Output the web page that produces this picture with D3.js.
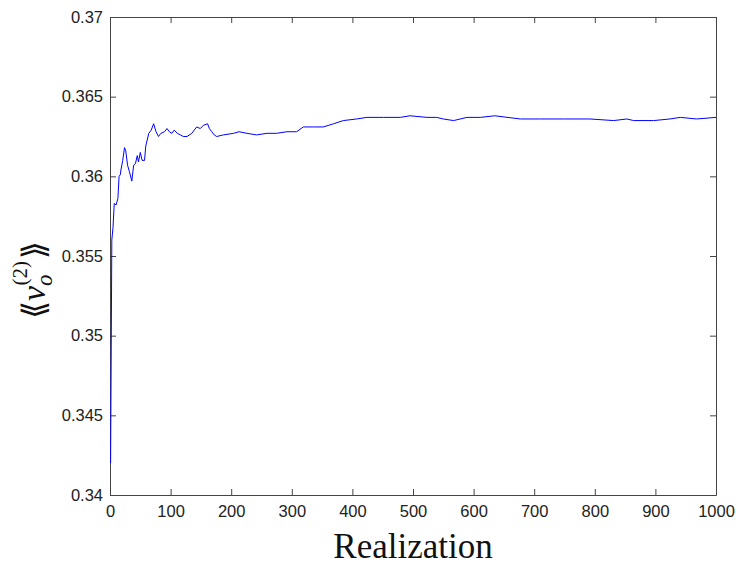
<!DOCTYPE html>
<html>
<head>
<meta charset="utf-8">
<script src="https://cdn.jsdelivr.net/npm/d3@7"></script>
<style>
  body { margin: 0; background: white; }
  svg { display: block; }
</style>
</head>
<body>
<div id="chart"></div>
<script>
// Realization index (x)
const realizations = [
  1, 3, 5, 7, 10, 13, 15, 17, 18, 21, 24, 26, 29, 32, 36, 39, 42, 45, 47, 50,
  53, 57, 59, 64, 68, 72, 76, 80, 84, 90, 94, 98, 102, 106, 111, 116, 121, 127,
  135, 143, 149, 154, 161, 164, 168, 172, 176, 187, 204, 213, 226, 242, 259, 275,
  292, 308, 319, 336, 352, 369, 385, 407, 424, 451, 479, 495, 523, 539, 550, 567,
  589, 611, 635, 677, 710, 748, 792, 831, 853, 864, 897, 924, 941, 968, 1000
];

// Running average <<v_o^(2)>> at each realization
const meanValues = [
  0.3420, 0.3560, 0.3568, 0.3583, 0.3582, 0.3586, 0.3600, 0.3601, 0.3604, 0.3610,
  0.3618, 0.3616, 0.3607, 0.3603, 0.3597, 0.3607, 0.3608, 0.3613, 0.3609, 0.3615,
  0.3610, 0.3610, 0.3619, 0.3627, 0.3629, 0.3633, 0.3628, 0.3625, 0.3627, 0.3628,
  0.3630, 0.3628, 0.3627, 0.3629, 0.3627, 0.3626, 0.3625, 0.3625, 0.3627, 0.3631,
  0.3630, 0.3632, 0.3633, 0.3630, 0.3628, 0.3626, 0.3625, 0.3626, 0.3627, 0.3628,
  0.3627, 0.3626, 0.3627, 0.3627, 0.3628, 0.3628, 0.3631, 0.3631, 0.3631, 0.3633,
  0.3635, 0.3636, 0.3637, 0.3637, 0.3637, 0.3638, 0.3637, 0.3637, 0.3636, 0.3635,
  0.3637, 0.3637, 0.3638, 0.3636, 0.3636, 0.3636, 0.3636, 0.3635, 0.3636, 0.3635,
  0.3635, 0.3636, 0.3637, 0.3636, 0.3637
];

// Tick values
const xTicks = [0, 100, 200, 300, 400, 500, 600, 700, 800, 900, 1000];
const yTicks = [0.34, 0.345, 0.35, 0.355, 0.36, 0.365, 0.37];

const W = 738, H = 565;
const margin = { top: 17, right: 22, bottom: 70, left: 110 };
const width = W - margin.left - margin.right;   // 606
const height = H - margin.top - margin.bottom;  // 478

const svg = d3.select("#chart").append("svg")
    .attr("width", W)
    .attr("height", H);

const g = svg.append("g")
    .attr("transform", `translate(${margin.left},${margin.top})`);

const xScale = d3.scaleLinear().domain([0, 1000]).range([0, width]);
const yScale = d3.scaleLinear().domain([0.34, 0.37]).range([height, 0]);

const tickFont = "Liberation Sans, Arial, sans-serif";
const axisColor = "#444";

// Axes, MATLAB style: ticks point inward, mirrored on top and right
const bottomAxis = g.append("g")
    .attr("transform", `translate(0,${height})`)
    .call(d3.axisBottom(xScale).tickValues(xTicks).tickFormat(d3.format("d"))
        .tickSizeInner(-6).tickSizeOuter(0).tickPadding(10));
const topAxis = g.append("g")
    .call(d3.axisTop(xScale).tickValues(xTicks).tickFormat("")
        .tickSizeInner(-6).tickSizeOuter(0));
const leftAxis = g.append("g")
    .call(d3.axisLeft(yScale).tickValues(yTicks).tickFormat(d => String(+d.toFixed(3)))
        .tickSizeInner(-6).tickSizeOuter(0).tickPadding(7));
const rightAxis = g.append("g")
    .attr("transform", `translate(${width},0)`)
    .call(d3.axisRight(yScale).tickValues(yTicks).tickFormat("")
        .tickSizeInner(-6).tickSizeOuter(0));

[bottomAxis, topAxis, leftAxis, rightAxis].forEach(ax => {
    ax.select(".domain").attr("stroke", axisColor).attr("stroke-width", 1);
    ax.selectAll(".tick line").attr("stroke", axisColor);
    ax.selectAll(".tick text")
        .attr("fill", "#222")
        .style("font-family", tickFont)
        .style("font-size", "16.5px");
});

// The data line
const line = d3.line()
    .x((d, i) => xScale(realizations[i]))
    .y(d => yScale(d));

g.append("path")
    .datum(meanValues)
    .attr("fill", "none")
    .attr("stroke", "#0000ff")
    .attr("stroke-width", 1)
    .attr("d", line);

// x label
svg.append("text")
    .attr("x", margin.left + width / 2)
    .attr("y", 558)
    .attr("text-anchor", "middle")
    .style("font-family", "Liberation Serif, Times New Roman, serif")
    .style("font-size", "35px")
    .attr("fill", "#111")
    .text("Realization");

// y label: <<v_o^(2)>>, rotated
const yl = svg.append("text")
    .attr("transform", "translate(45,280) rotate(-90)")
    .attr("text-anchor", "middle")
    .attr("fill", "#111")
    .style("font-family", "Liberation Serif, Times New Roman, serif")
    .style("font-size", "34px");

yl.append("tspan").style("font-family", "DejaVu Sans").style("font-size", "32px").text("⟪");
yl.append("tspan").style("font-style", "italic").text("v");
yl.append("tspan").style("font-style", "italic").style("font-size", "23px")
    .attr("dy", 7).text("o");
yl.append("tspan").style("font-size", "21px")
    .attr("dx", -11).attr("dy", -25).text("(2)");
yl.append("tspan").style("font-family", "DejaVu Sans").style("font-size", "32px")
    .attr("dx", 2).attr("dy", 18).text("⟫");
</script>
</body>
</html>
